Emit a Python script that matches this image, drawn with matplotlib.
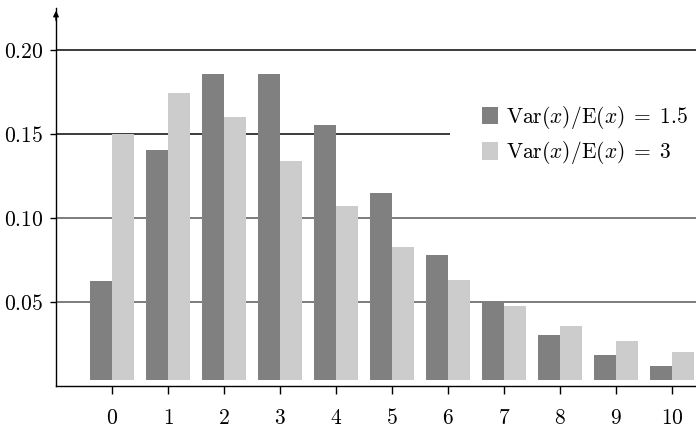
import matplotlib
matplotlib.use("Agg")
import matplotlib.pyplot as plt
import numpy as np
from matplotlib.patches import Patch, Rectangle
from matplotlib.ticker import FuncFormatter

plt.rcParams["mathtext.fontset"] = "cm"
plt.rcParams["font.family"] = "serif"

counts = list(range(11))
# probabilities for the two dispersion ratios
ratio_15 = [0.0585, 0.1366, 0.1821, 0.1821, 0.1518, 0.1113, 0.0742, 0.0459, 0.0268, 0.0149, 0.0079]
ratio_3 = [0.1462, 0.1706, 0.1564, 0.1303, 0.1032, 0.0791, 0.0593, 0.0438, 0.0319, 0.0231, 0.0165]
labels = [r"$\mathrm{Var}(x)/\mathrm{E}(x)\;=\;1.5$", r"$\mathrm{Var}(x)/\mathrm{E}(x)\;=\;3$"]
y_ticks = [0.05, 0.10, 0.15, 0.20]

DARK = "#808080"
LIGHT = "#cccccc"
BASE = 0.0036
WIDTH = 0.4
FS = 15.5

fig = plt.figure(figsize=(6.96, 4.29), dpi=100)
ax = fig.add_axes([56 / 696, 43.3 / 429, 1 - 56 / 696, 377.7 / 429])

x = np.array(counts)
ax.bar(x - WIDTH / 2, ratio_15, WIDTH, bottom=BASE, color=DARK, zorder=3)
ax.bar(x + WIDTH / 2, ratio_3, WIDTH, bottom=BASE, color=LIGHT, zorder=3)

for v in y_ticks:
    c = "#1a1a1a" if v >= 0.15 else "#666666"
    ax.axhline(v, color=c, lw=1.2, zorder=1)

ax.set_xlim(-1.0, 10.43)
ax.set_ylim(0, 0.2248)

ax.set_xticks(counts)
ax.set_yticks(y_ticks)
ax.xaxis.set_major_formatter(FuncFormatter(lambda v, p: f"${int(v)}$"))
ax.yaxis.set_major_formatter(FuncFormatter(lambda v, p: f"${v:.2f}$"))
ax.tick_params(axis="x", length=6, width=1, pad=9.5, labelsize=FS)
ax.tick_params(axis="y", length=4, width=1, pad=5, labelsize=FS)

for side in ("top", "right"):
    ax.spines[side].set_visible(False)
for side in ("left", "bottom"):
    ax.spines[side].set_linewidth(1)

# arrow head on the vertical axis
ax.annotate("", xy=(0, 1.0), xytext=(0, 0.96), xycoords="axes fraction",
            arrowprops=dict(arrowstyle="-|>", color="black", lw=1,
                            mutation_scale=8), annotation_clip=False)

# white panel behind the legend
ax.add_patch(Rectangle((0.615, 0.57), 0.4, 0.2, transform=ax.transAxes,
                       facecolor="white", edgecolor="none", zorder=2))

handles = [Patch(facecolor=DARK), Patch(facecolor=LIGHT)]
ax.legend(handles, labels, loc="upper left", bbox_to_anchor=(0.666, 0.745),
          frameon=False, fontsize=FS, handlelength=0.75, handleheight=0.85,
          handletextpad=0.35, labelspacing=0.38, borderpad=0, borderaxespad=0)

fig.savefig("out.png", dpi=100)
